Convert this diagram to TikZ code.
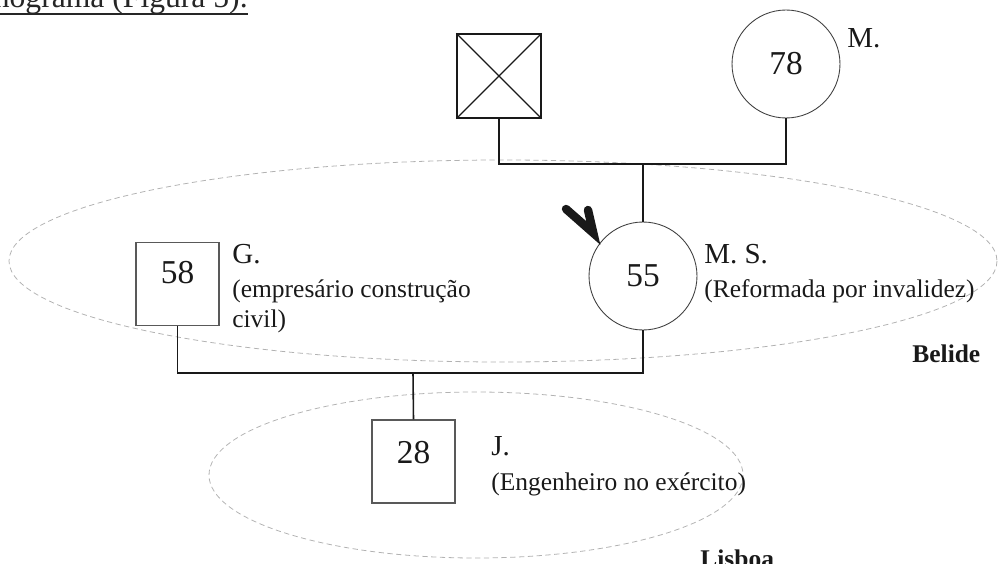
\documentclass[tikz,border=0pt]{standalone}
\usepackage{fontspec}
\setmainfont{Liberation Serif}
\usepackage{tikz}

\begin{document}
\begin{tikzpicture}[
    x=0.02cm, y=-0.02cm,
    agetext/.style={font=\fontsize{19}{21}\selectfont, text=black!90},
    nametext/.style={anchor=base west, inner sep=0pt, font=\fontsize{16.5}{18}\selectfont, text=black!90},
    desctext/.style={anchor=north west, inner sep=0pt, align=left, font=\fontsize{14.5}{17.5}\selectfont, text=black!90},
    placetext/.style={anchor=base west, inner sep=0pt, font=\fontsize{14.5}{16}\selectfont\bfseries, text=black!90},
    malebox/.style={draw=black!65, line width=0.6pt, minimum size=1.66cm, inner sep=0pt},
    femalecirc/.style={circle, draw=black!75, line width=0.5pt, minimum size=2.16cm, inner sep=0pt, agetext},
    famline/.style={black!90, line width=0.9pt},
    zone/.style={dashed, dash pattern=on 3pt off 2pt, gray!60, line width=0.45pt},
    pointer/.style={line width=4.8pt, line join=miter, miter limit=30, line cap=round, black!90}
]
    \useasboundingbox (0,0) rectangle (1000,564);

    % --- texto cortado no topo ---
    \node[anchor=base east, inner sep=0pt, font=\fontsize{18}{20}\selectfont, text=black!85] (caption) at (248,8) {genograma (Figura 5).};
    \draw[black!85, line width=1.1pt] ([yshift=-3.3pt]caption.base west) -- ([yshift=-3.3pt]caption.base east);

    % --- zonas (Belide / Lisboa) ---
    \draw[zone] (503,261) ellipse [x radius=494, y radius=101];
    \draw[zone] (476,475) ellipse [x radius=267, y radius=83];
    \node[placetext] (belide) at (912,362) {Belide};
    \node[placetext] (lisboa) at (700,567) {Lisboa};

    % --- avos ---
    \node[malebox, draw=black!90, line width=0.7pt, minimum size=1.68cm] (father) at (499,76) {};
    \draw[black!90, line width=0.7pt] (father.north west) -- (father.south east)
        (father.north east) -- (father.south west);

    \node[femalecirc] (m78) at (786,64) {78};
    \node[nametext] (m78lbl) at (847,48) {M.};

    % --- pais ---
    \node[malebox, label={[agetext, yshift=0.22cm]center:58}] (g58) at (177.5,284) {};
    \node[nametext] (g58lbl) at (232,263) {G.};
    \node[desctext] (g58desc) at (232,279) {(empresário construção\\civil)};

    \node[femalecirc] (ms55) at (643,276) {55};
    \node[nametext] (ms55lbl) at (704,263) {M. S.};
    \node[desctext] (ms55desc) at (704,279) {(Reformada por invalidez)};

    % --- filho ---
    \node[malebox, label={[agetext, yshift=0.18cm]center:28}] (j28) at (413.5,461.5) {};
    \node[nametext] (j28lbl) at (491,455) {J.};
    \node[desctext] (j28desc) at (491,472) {(Engenheiro no exército)};

    % --- ligacoes ---
    \coordinate (topbar) at (643,164);
    \coordinate (botbar) at (413,373);
    \draw[famline] (father.south) |- (topbar) -| (m78.south);
    \draw[famline] (topbar) -- (ms55.north);
    \draw[famline] (g58.south) |- (botbar) -| (ms55.south);
    \draw[famline] (botbar) -- (j28.north);

    % seta para o caso indice
    \coordinate (ptrtail) at (566,209);
    \coordinate (ptrarm) at (588,210);
    \draw[pointer] (ptrtail) -- ([xshift=-0.16cm, yshift=0.16cm]ms55.140) -- (ptrarm);

\end{tikzpicture}
\end{document}
